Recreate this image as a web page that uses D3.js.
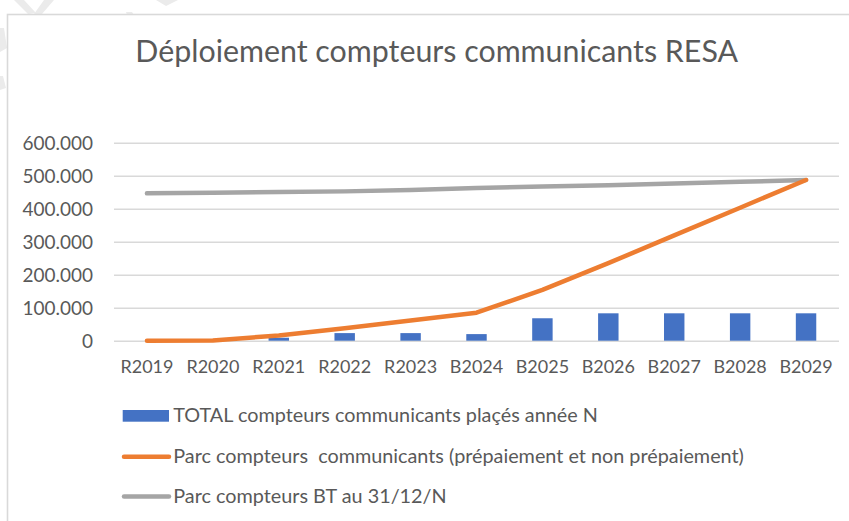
<!DOCTYPE html>
<html><head><meta charset="utf-8">
<script src="https://cdn.jsdelivr.net/npm/d3@7"></script>
<style>body{margin:0;background:#fff}svg{display:block}text{font-family:Lato,"Open Sans",sans-serif;fill:#595959;white-space:pre}</style>
</head><body>
<script>
const categories = ["R2019","R2020","R2021","R2022","R2023","B2024","B2025","B2026","B2027","B2028","B2029"];
const totalPlaces = [0,0,9000,23000,23000,20000,68000,83000,83000,83000,83000];
const parcCommunicants = [0,500,16000,38000,61000,85000,154000,235000,319000,403000,487000];
const parcBT = [446500,448500,450500,452500,456500,462500,467500,471000,476000,481500,487000];
const yTicks = [0,100000,200000,300000,400000,500000,600000];
const seriesNames = ["TOTAL compteurs communicants plaçés année N","Parc compteurs  communicants (prépaiement et non prépaiement)","Parc compteurs BT au 31/12/N"];
const title = "Déploiement compteurs communicants RESA";

const W=849,H=521;
const FF="Lato,'Open Sans',sans-serif";
const svg=d3.select("body").append("svg").attr("width",W).attr("height",H);

// faint watermark strokes
const wm=svg.append("g").attr("fill","#ebebeb");
[[ [14,0],[24,0],[36,13],[28,14] ],[ [44,0],[54,0],[42,14],[34,14] ],[ [156,0],[178,0],[166,6] ],[ [0,28],[4,28],[7,48],[0,52] ],[ [0,76],[3,76],[6,88],[0,90] ],[ [126,12],[132,12],[134,15],[127,15] ]]
 .forEach(p=>wm.append("polygon").attr("points",p.map(d=>d.join(",")).join(" ")));

svg.append("rect").attr("x",7.5).attr("y",14.5).attr("width",W+20).attr("height",H+20)
 .attr("fill","#fff").attr("stroke","#d9d9d9").attr("stroke-width",1.6);

function fit(sel,target){const n=sel.node();sel.style("font-size","100px");const w=n.getComputedTextLength();const s=100*target/w;sel.style("font-size",s+"px");return s;}

const x=d3.scaleBand().domain(categories).range([114,839]).paddingInner(0).paddingOuter(0);
const y=d3.scaleLinear().domain([0,600000]).range([340.7,142.7]);
const fmt=v=>v===0?"0":d3.format(",")(v).replace(/,/g,".");

// title
const t=svg.append("text").attr("x",436.7).attr("y",62).attr("text-anchor","middle").text(title);
fit(t,603);

// measure tick font sizes
const probe=svg.append("text").text("600.000");
const ySize=fit(probe,70.6);
probe.text("R2019");
const xSize=fit(probe,53);
probe.remove();

const yAxis=d3.axisLeft(y).tickValues(yTicks).tickSize(-(839-114)).tickFormat(fmt).tickPadding(21);
const gy=svg.append("g").attr("transform","translate(114,0)").call(yAxis);
gy.select(".domain").remove();
gy.selectAll(".tick line").attr("stroke","#d9d9d9").attr("stroke-width",1.5);
gy.selectAll(".tick text").style("font-size",ySize+"px").attr("fill","#595959").style("font-family",FF).attr("dy","0.35em");

const xAxis=d3.axisBottom(x).tickSize(0).tickPadding(20);
const gx=svg.append("g").attr("transform","translate(0,340.7)").call(xAxis);
gx.select(".domain").remove();
gx.selectAll(".tick text").style("font-size",xSize+"px").attr("fill","#595959").style("font-family",FF);

// bars
const bw=x.bandwidth()*0.31;
svg.append("g").selectAll("rect").data(categories).join("rect")
 .attr("x",(d)=>x(d)+x.bandwidth()/2-bw/2).attr("width",bw)
 .attr("y",(d,i)=>y(totalPlaces[i])).attr("height",(d,i)=>y(0)-y(totalPlaces[i]))
 .attr("fill","#4472C4");

const line=d3.line().x((d,i)=>x(categories[i])+x.bandwidth()/2).y(d=>y(d));
svg.append("path").datum(parcBT).attr("d",line).attr("fill","none").attr("stroke","#A5A5A5").attr("stroke-width",4.5).attr("stroke-linecap","round").attr("stroke-linejoin","round");
svg.append("path").datum(parcCommunicants).attr("d",line).attr("fill","none").attr("stroke","#ED7D31").attr("stroke-width",4.5).attr("stroke-linecap","round").attr("stroke-linejoin","round");

// legend
const lg=svg.append("g");
const lt1=lg.append("text").attr("x",173.3).attr("y",422.3).text(seriesNames[0]);
const legSize=fit(lt1,424.7);
lg.append("rect").attr("x",122.7).attr("y",410).attr("width",46.3).attr("height",11.7).attr("fill","#4472C4");
lg.append("line").attr("x1",124).attr("x2",169).attr("y1",456.7).attr("y2",456.7).attr("stroke","#ED7D31").attr("stroke-width",4.5).attr("stroke-linecap","round");
lg.append("text").attr("x",173.3).attr("y",462.7).style("font-size",legSize+"px").text(seriesNames[1]);
lg.append("line").attr("x1",124).attr("x2",169).attr("y1",496.5).attr("y2",496.5).attr("stroke","#A5A5A5").attr("stroke-width",4.5).attr("stroke-linecap","round");
lg.append("text").attr("x",173.3).attr("y",502.7).style("font-size",legSize+"px").text(seriesNames[2]);
</script>
</body></html>
